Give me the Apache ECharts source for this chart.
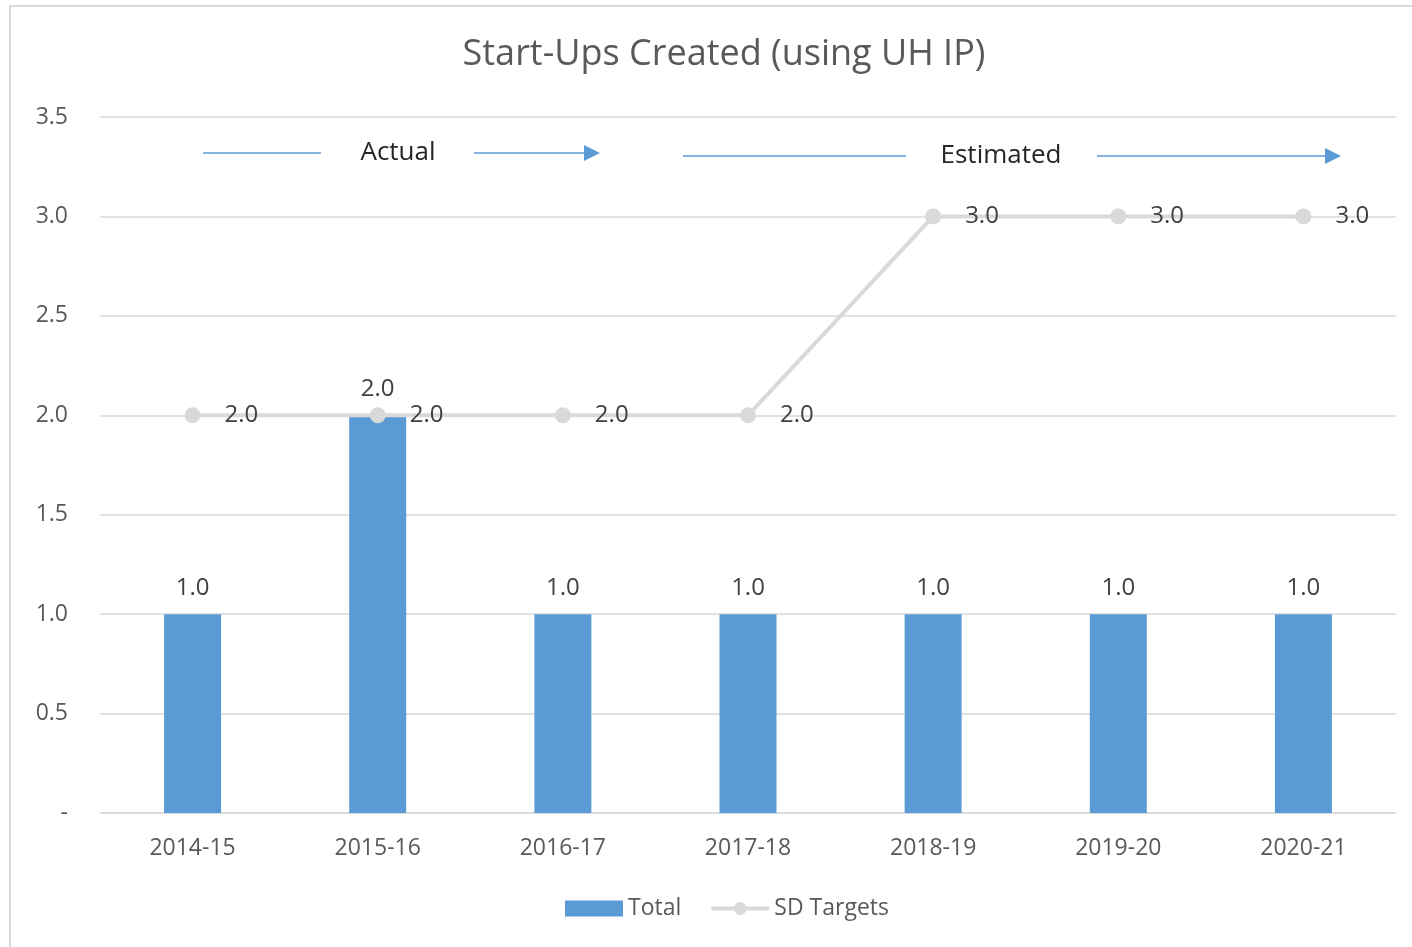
<!DOCTYPE html>
<html lang="en">
<head>
    <meta charset="UTF-8">
    <title>Start-Ups Created (using UH IP)</title>
    <script src="https://cdn.jsdelivr.net/npm/echarts@6.0.0/dist/echarts.min.js"></script>
    <style>
        html, body { margin: 0; padding: 0; background: #fff; }
    </style>
</head>
<body>
    <div id="chart" style="width: 1412px; height: 947px;"></div>

    <script>
        // data
        const years = ['2014-15', '2015-16', '2016-17', '2017-18', '2018-19', '2019-20', '2020-21'];
        const total = [1, 2, 1, 1, 1, 1, 1];
        const sdTargets = [2, 2, 2, 2, 3, 3, 3];

        const font = '"Open Sans", "Noto Sans", sans-serif';
        const blue = '#5b9bd5';

        let chart = echarts.init(document.getElementById('chart'));

        // annotation arrow helper (Actual / Estimated)
        function arrow(x1, x2, y) {
            return [
                { type: 'line', shape: { x1: x1, y1: y, x2: x2 - 14, y2: y }, style: { stroke: blue, lineWidth: 1.5 } },
                { type: 'polygon', shape: { points: [[x2 - 16, y - 8], [x2, y], [x2 - 16, y + 8]] }, style: { fill: blue } }
            ];
        }

        let option = {
            animation: false,
            title: {
                text: 'Start-Ups Created (using UH IP)',
                left: 719,
                textAlign: 'center',
                top: 32,
                textStyle: { fontFamily: font, fontSize: 36, fontWeight: 'normal', color: '#595959' }
            },
            grid: { left: 100, right: 16, top: 117, bottom: 134, containLabel: false },
            legend: {
                bottom: 22,
                left: 560,
                itemGap: 28,
                itemWidth: 58,
                itemHeight: 16,
                textStyle: { fontFamily: font, fontSize: 23, color: '#595959' },
                data: [
                    { name: 'Total', icon: 'rect' },
                    { name: 'SD Targets', lineStyle: { width: 4 } }
                ]
            },
            xAxis: {
                type: 'category',
                data: years,
                axisLine: { lineStyle: { color: '#d9d9d9', width: 1.5 } },
                axisTick: { show: false },
                axisLabel: { fontFamily: font, fontSize: 23, color: '#595959', margin: 24 }
            },
            yAxis: {
                type: 'value',
                min: 0,
                max: 3.5,
                interval: 0.5,
                axisLine: { show: false },
                axisTick: { show: false },
                splitLine: { lineStyle: { color: '#d9d9d9', width: 1.5 } },
                axisLabel: {
                    fontFamily: font, fontSize: 23, color: '#595959', margin: 32,
                    formatter: v => v === 0 ? '-' : v.toFixed(1)
                }
            },
            series: [
                {
                    name: 'Total',
                    type: 'bar',
                    data: total,
                    barWidth: 57,
                    itemStyle: { color: blue },
                    label: {
                        show: true, position: 'top', distance: 14,
                        fontFamily: font, fontSize: 24, color: '#404040',
                        formatter: p => p.value.toFixed(1)
                    }
                },
                {
                    name: 'SD Targets',
                    type: 'line',
                    data: sdTargets,
                    symbol: 'circle',
                    symbolSize: 16,
                    lineStyle: { color: '#d9d9d9', width: 4 },
                    itemStyle: { color: '#d9d9d9' },
                    label: {
                        show: true, position: 'right', distance: 24,
                        fontFamily: font, fontSize: 24, color: '#404040',
                        formatter: p => p.value.toFixed(1)
                    }
                }
            ],
            graphic: [
                { type: 'rect', silent: true, shape: { x: 10, y: 6, width: 1430, height: 970 }, style: { fill: 'none', stroke: '#d9d9d9', lineWidth: 2 } },
                { type: 'line', shape: { x1: 203, y1: 153, x2: 321, y2: 153 }, style: { stroke: blue, lineWidth: 1.5 } },
                { type: 'text', x: 398, y: 153, style: { text: 'Actual', fontFamily: font, fontSize: 26, fill: '#262626', align: 'center', verticalAlign: 'middle' } },
                ...arrow(474, 600, 153),
                { type: 'line', shape: { x1: 683, y1: 156, x2: 906, y2: 156 }, style: { stroke: blue, lineWidth: 1.5 } },
                { type: 'text', x: 1001, y: 156, style: { text: 'Estimated', fontFamily: font, fontSize: 26, fill: '#262626', align: 'center', verticalAlign: 'middle' } },
                ...arrow(1097, 1341, 156)
            ]
        };

        chart.setOption(option);
    </script>
</body>
</html>
